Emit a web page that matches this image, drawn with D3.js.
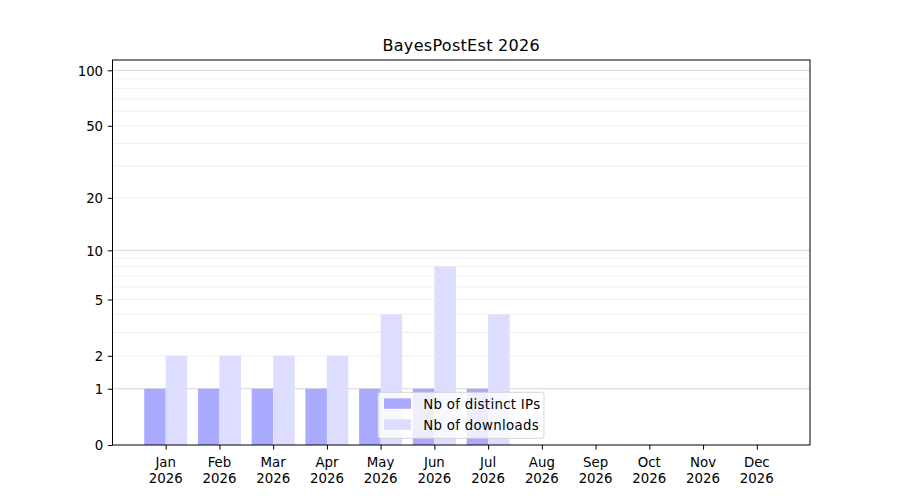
<!DOCTYPE html>
<html>
<head>
<meta charset="utf-8">
<script src="https://cdn.jsdelivr.net/npm/d3@7"></script>
<style>
  body { margin: 0; background: #fff; }
  text { font-family: "DejaVu Sans", sans-serif; fill: #000; }
</style>
</head>
<body>
<svg id="chart" width="900" height="500"></svg>
<script>
(function() {

    const months = ["Jan", "Feb", "Mar", "Apr", "May", "Jun", "Jul", "Aug", "Sep", "Oct", "Nov", "Dec"];
    const year = "2026";
    const distinctIps = [1, 1, 1, 1, 1, 1, 1, 0, 0, 0, 0, 0];
    const downloads = [2, 2, 2, 2, 4, 8, 4, 0, 0, 0, 0, 0];
    const yTicks = [0, 1, 2, 5, 10, 20, 50, 100];
    const majorGrid = [1, 10, 100];
    const minorGrid = [2, 3, 4, 5, 6, 7, 8, 9, 20, 30, 40, 50, 60, 70, 80, 90];
    const seriesNames = ["Nb of distinct IPs", "Nb of downloads"];
    const seriesColors = ["#aaaaff", "#ddddff"];

    const left = 112.5, right = 810, top = 60, bottom = 445;
    const barWidth = 0.4;

    const svg = d3.select("#chart");

    const x = d3.scaleLinear()
        .domain([-0.99, 11.99])
        .range([left, right]);

    const y = d3.scaleSymlog()
        .constant(1)
        .domain([0, 113.7])
        .range([bottom, top]);

    // grid lines first, behind the bars
    svg.append("g").selectAll("line")
        .data(minorGrid)
        .enter()
        .append("line")
        .attr("x1", left)
        .attr("x2", right)
        .attr("y1", d => y(d))
        .attr("y2", d => y(d))
        .attr("stroke", "#ebebeb")
        .attr("stroke-width", 0.8);

    svg.append("g").selectAll("line")
        .data(majorGrid)
        .enter()
        .append("line")
        .attr("x1", left)
        .attr("x2", right)
        .attr("y1", d => y(d))
        .attr("y2", d => y(d))
        .attr("stroke", "#cccccc")
        .attr("stroke-width", 0.8);

    function addBars(values, offset, color) {
        svg.append("g").selectAll("rect")
            .data(values)
            .enter()
            .append("rect")
            .attr("x", (d, i) => x(i + offset))
            .attr("width", x(barWidth) - x(0))
            .attr("y", d => y(d))
            .attr("height", d => y(0) - y(d))
            .attr("fill", color);
    }
    addBars(distinctIps, -barWidth, seriesColors[0]);
    addBars(downloads, 0, seriesColors[1]);

    // axes
    const yAxis = d3.axisLeft(y)
        .tickValues(yTicks)
        .tickFormat(d3.format("d"))
        .tickSize(4.7)
        .tickPadding(4.7);
    const yg = svg.append("g")
        .attr("transform", "translate(" + left + ",0)")
        .call(yAxis);
    yg.select(".domain").remove();
    yg.selectAll("text").attr("font-size", "13.33px").attr("font-family", "DejaVu Sans").attr("dy", "0.36em");

    const xAxis = d3.axisBottom(x)
        .tickValues(d3.range(months.length))
        .tickFormat("")
        .tickSize(4.7);
    const xg = svg.append("g")
        .attr("transform", "translate(0," + bottom + ")")
        .call(xAxis);
    xg.select(".domain").remove();

    const labels = svg.append("g").selectAll("text")
        .data(months)
        .enter()
        .append("text")
        .attr("text-anchor", "middle")
        .attr("font-size", "13.33px")
        .attr("x", (d, i) => x(i));
    labels.append("tspan").attr("x", (d, i) => x(i)).attr("y", 466.5).text(d => d);
    labels.append("tspan").attr("x", (d, i) => x(i)).attr("y", 482.5).text(year);

    svg.append("rect")
        .attr("x", left)
        .attr("y", top)
        .attr("width", right - left)
        .attr("height", bottom - top)
        .attr("fill", "none")
        .attr("stroke", "#000")
        .attr("stroke-width", 1);

    svg.append("text")
        .attr("x", (left + right) / 2)
        .attr("y", 51)
        .attr("text-anchor", "middle")
        .attr("font-size", "16px")
        .attr("letter-spacing", "0.3px")
        .text("BayesPostEst " + year);

    // legend, lower center
    const legend = svg.append("g").attr("transform", "translate(378,392.3)");
    legend.append("rect")
        .attr("width", 166)
        .attr("height", 46)
        .attr("rx", 2.5)
        .attr("fill", "#fff")
        .attr("fill-opacity", 0.8)
        .attr("stroke", "#cccccc")
        .attr("stroke-opacity", 0.8);
    seriesNames.forEach(function(name, i) {
        legend.append("rect")
            .attr("x", 6)
            .attr("y", 6 + i * 21)
            .attr("width", 27)
            .attr("height", 10.5)
            .attr("fill", seriesColors[i]);
        legend.append("text")
            .attr("x", 45.3)
            .attr("y", 16.5 + i * 21)
            .attr("font-size", "13.33px")
            .attr("letter-spacing", "0.3px")
            .text(name);
    });
})();
</script>
</body>
</html>
